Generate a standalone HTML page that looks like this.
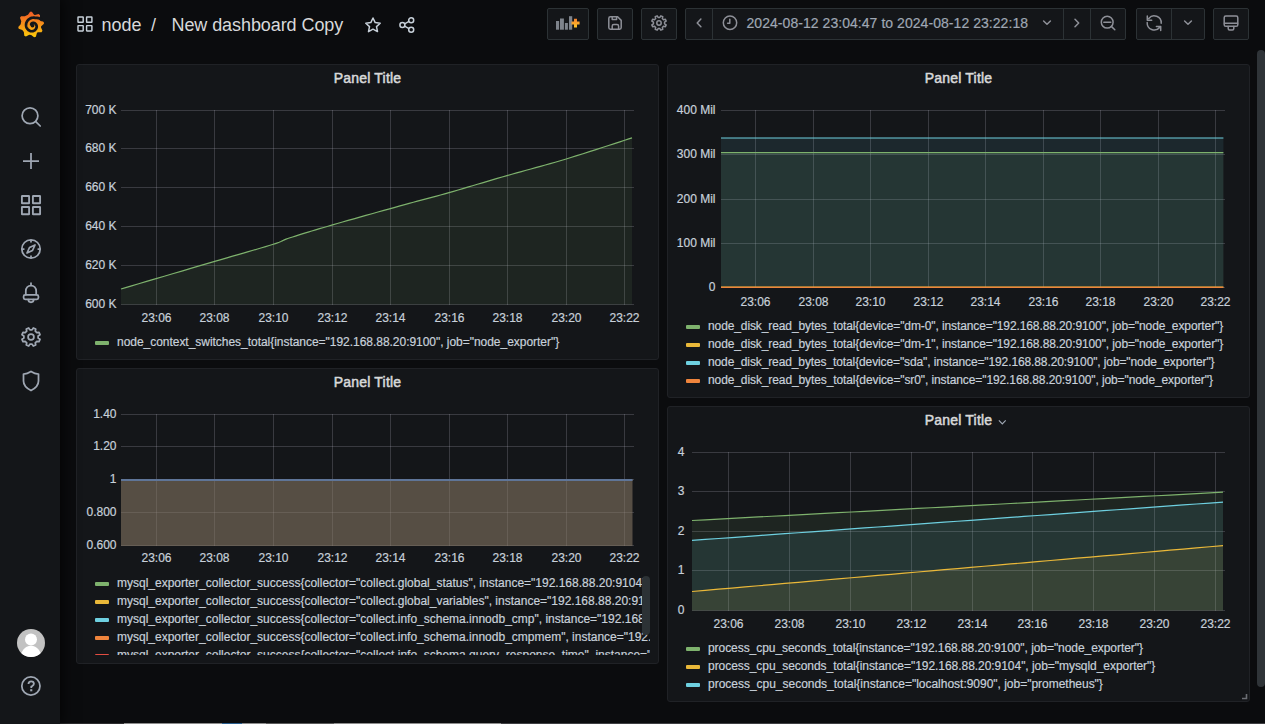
<!DOCTYPE html>
<html><head><meta charset="utf-8"><title>Grafana</title>
<style>
*{margin:0;padding:0;box-sizing:border-box}
html,body{width:1265px;height:724px;overflow:hidden}
body{background:#0b0c0e;font-family:"Liberation Sans", sans-serif;color:#c7d0d9;position:relative}
.a{position:absolute}
.side{left:0;top:0;width:60px;height:724px;background:#141619;box-shadow:0 0 14px 2px rgba(0,0,0,0.75);z-index:2}
.panel{position:absolute;background:#141619;border:1px solid #202226;border-radius:3px}
.pt{position:absolute;left:0;right:0;text-align:center;font-size:14px;font-weight:normal;color:#d8d9da;-webkit-text-stroke:0.5px #d8d9da;letter-spacing:0.2px}
.ax{font-family:"Liberation Sans", sans-serif;font-size:12px;fill:#c7d0d9;stroke:#c7d0d9;stroke-width:0.2px}
.lg{position:absolute;font-size:12px;color:#c7d0d9;white-space:nowrap;letter-spacing:-0.06px;-webkit-text-stroke:0.2px #c7d0d9}
.sw{position:absolute;width:14px;height:4px;border-radius:1px}
.btn{position:absolute;top:8px;height:32px;background:#141619;border:1px solid #2c3235;border-radius:2px}
.div{position:absolute;top:0;width:1px;height:30px;background:#2c3235}
.nav{font-size:18px;color:#d8d9da;white-space:nowrap}
</style></head><body>

<div class="a side">
<svg class="a" style="left:0;top:0" width="60" height="724" viewBox="0 0 60 724">
<defs><linearGradient id="lg1" x1="0" y1="0" x2="0" y2="1"><stop offset="0" stop-color="#F05A28"/><stop offset="1" stop-color="#FBCA0A"/></linearGradient></defs>
<path fill="url(#lg1)" d="M27.99,14.75 L30.09,11.63 L31.91,11.63 L34.01,14.75 L35.02,15.12 L38.64,14.08 L40.03,15.25 L39.64,18.99 L40.33,20.25 L43.72,21.90 L43.97,23.69 L41.17,26.21 L40.95,27.27 L42.48,30.70 L41.52,32.24 L37.76,32.37 L36.91,33.04 L35.87,36.65 L34.14,37.21 L31.18,34.90 L29.21,34.74 L25.92,36.57 L24.30,35.74 L23.85,32.01 L22.27,30.06 L18.71,28.83 L18.24,27.08 L20.71,24.24 L21.26,21.25 L19.98,17.71 L21.04,16.24 L24.80,16.37 Z"/>
<path fill="none" stroke="#141619" stroke-width="2.7" stroke-linecap="round" d="M41.55,19.90 L40.49,19.13 L39.38,18.53 L38.24,18.10 L37.11,17.84 L36.00,17.73 L34.94,17.78 L34.10,17.68 L33.27,17.66 L32.46,17.73 L31.68,17.89 L30.93,18.12 L30.23,18.43 L29.58,18.81 L28.91,19.26 L28.30,19.78 L27.77,20.35 L27.32,20.97 L26.96,21.63 L26.60,22.30 L26.33,23.01 L26.15,23.74 L26.06,24.47 L26.05,25.21 L26.13,25.94 L26.25,26.58 L26.44,27.21 L26.69,27.81 L27.01,28.38 L27.38,28.91 L27.81,29.39 L28.30,29.86 L28.84,30.27 L29.43,30.62 L30.05,30.90 L30.70,31.11 L31.36,31.24 L32.10,31.22 L32.81,31.11 L33.50,30.91 L34.14,30.64 L34.74,30.29 L35.20,29.89 L35.60,29.46 L35.95,28.99 L36.23,28.50 L36.45,27.99 L36.61,27.47 L36.71,26.94 L36.69,26.36 L36.60,25.81 L36.45,25.30 L36.24,24.83 L35.98,24.40 L35.68,24.03 L35.40,23.72 L35.09,23.46 L34.76,23.24 L34.43,23.07 L34.09,22.95 L33.74,22.88 L33.41,22.84 L33.09,22.86 L32.79,22.88 L32.50,22.94 L32.24,23.03 L31.99,23.15 L31.78,23.29 L31.59,23.45 L31.44,23.63 L31.31,23.82 L31.22,24.01 L31.16,24.21 L31.13,24.40"/>
<circle cx="32.5" cy="25.6" r="1.9" fill="#141619"/>
<g fill="none" stroke="#9fa7b3" stroke-width="1.75" stroke-linecap="round" stroke-linejoin="round">
<circle cx="30" cy="115.8" r="7.9"/><path d="M35.8,121.6 L40.2,126"/>
<path d="M23,161 H39 M31,153 V169" stroke-linecap="butt"/>
<g stroke-width="1.85" stroke-linejoin="miter"><rect x="21.9" y="196" width="7.2" height="7.2" rx="0.3"/><rect x="32.9" y="196" width="7.2" height="7.2" rx="0.3"/><rect x="21.9" y="207" width="7.2" height="7.2" rx="0.3"/><rect x="32.9" y="207" width="7.2" height="7.2" rx="0.3"/></g>
<circle cx="31" cy="249" r="9.2"/><path d="M35,245 L32.5,250.5 L27,253 L29.5,247.5 Z"/><path d="M31,240.5 V241.8 M31,256.2 V257.5 M22.5,249 H23.8 M38.2,249 H39.5"/>
<path d="M31,283.2 V285.4 M25.8,294.6 V291.2 C25.8,288 28,285.6 31,285.6 C34,285.6 36.2,288 36.2,291.2 V294.6"/>
<rect x="23.6" y="294.8" width="14.8" height="4.6" rx="1.6"/>
<path d="M28.3,299.6 A2.7,2.7 0 0 0 33.7,299.6"/>
<path d="M38.12,338.07 L40.01,339.31 L39.00,341.73 L36.79,341.28 L35.28,342.79 L35.73,345.00 L33.31,346.01 L32.07,344.12 L29.93,344.12 L28.69,346.01 L26.27,345.00 L26.72,342.79 L25.21,341.28 L23.00,341.73 L21.99,339.31 L23.88,338.07 L23.88,335.93 L21.99,334.69 L23.00,332.27 L25.21,332.72 L26.72,331.21 L26.27,329.00 L28.69,327.99 L29.93,329.88 L32.07,329.88 L33.31,327.99 L35.73,329.00 L35.28,331.21 L36.79,332.72 L39.00,332.27 L40.01,334.69 L38.12,335.93 Z"/>
<circle cx="31" cy="337" r="2.9"/>
<path d="M31,371.5 C28,373.5 25.5,374 23.5,374 V381 C23.5,385.5 27,388.5 31,390.5 C35,388.5 38.5,385.5 38.5,381 V374 C36.5,374 34,373.5 31,371.5 Z"/>
<circle cx="30.9" cy="686" r="9.1"/>
</g>
<path d="M28.5,684.1 C28.5,682.4 29.7,681.3 31.2,681.3 C32.8,681.3 33.9,682.4 33.9,683.8 C33.9,685.4 32.3,685.9 31.3,686.6 V688" fill="none" stroke="#9fa7b3" stroke-width="1.8" stroke-linejoin="round"/>
<rect x="30.2" y="689.2" width="2.1" height="2.1" fill="#9fa7b3"/>
<defs><clipPath id="avc"><circle cx="31" cy="643" r="14"/></clipPath></defs>
<circle cx="31" cy="643" r="14" fill="#c2c2c2"/>
<g clip-path="url(#avc)" fill="#ffffff"><circle cx="31" cy="639.6" r="6"/><ellipse cx="31" cy="659.5" rx="11" ry="13.8"/></g>
</svg>
</div>
<svg class="a" style="left:76px;top:16px" width="18" height="17" viewBox="0 0 18 17">
<g fill="none" stroke="#c7d0d9" stroke-width="1.45"><rect x="2" y="1" width="5.2" height="5.2" rx="0.3"/><rect x="10.6" y="1" width="5.3" height="5.2" rx="0.3"/><rect x="2" y="9.6" width="5.2" height="5.3" rx="0.3"/><rect x="10.6" y="9.6" width="5.3" height="5.3" rx="0.3"/></g></svg>
<div class="a nav" style="left:101.5px;top:14.5px">node</div>
<div class="a nav" style="left:151px;top:14.5px">/</div>
<div class="a nav" style="left:171.5px;top:14.5px;letter-spacing:-0.08px">New dashboard Copy</div>
<svg class="a" style="left:363px;top:16px" width="20" height="18" viewBox="0 0 20 18">
<path fill="none" stroke="#c7d0d9" stroke-width="1.5" stroke-linejoin="round" d="M10,2 L12.2,6.6 L17.2,7.2 L13.5,10.6 L14.5,15.6 L10,13.2 L5.5,15.6 L6.5,10.6 L2.8,7.2 L7.8,6.6 Z"/></svg>
<svg class="a" style="left:398px;top:16px" width="18" height="18" viewBox="0 0 18 18">
<g fill="none" stroke="#c7d0d9" stroke-width="1.5"><circle cx="13.2" cy="4.2" r="2.5"/><circle cx="4.4" cy="9" r="2.5"/><circle cx="13.2" cy="13.8" r="2.5"/><path d="M6.6,7.8 L11,5.4 M6.6,10.2 L11,12.6"/></g></svg>

<div class="btn" style="left:547px;width:42px"></div>
<div class="btn" style="left:597px;width:36px"></div>
<div class="btn" style="left:641px;width:36px"></div>
<div class="btn" style="left:685px;width:441px"><div class="div" style="left:26px"></div><div class="div" style="left:377px"></div><div class="div" style="left:404px"></div></div>
<div class="btn" style="left:1136px;width:69px"><div class="div" style="left:34px"></div></div>
<div class="btn" style="left:1213px;width:36px"></div>
<div class="a" style="left:746.5px;top:14.5px;font-size:14px;color:#9fa7b3;white-space:nowrap;letter-spacing:0.05px;-webkit-text-stroke:0.2px #9fa7b3">2024-08-12 23:04:47 to 2024-08-12 23:22:18</div>
<svg class="a" style="left:0;top:0" width="1265" height="48" viewBox="0 0 1265 48">
<defs><linearGradient id="lg2" x1="0" y1="0" x2="0" y2="1"><stop offset="0" stop-color="#F5822F"/><stop offset="1" stop-color="#FFC629"/></linearGradient></defs>
<g fill="#7e838b">
<rect x="556" y="21" width="3.1" height="8.7"/><rect x="560" y="18.5" width="3.9" height="11.2"/><rect x="564.9" y="23" width="3" height="6.7"/><rect x="569" y="16.2" width="3.2" height="13.5"/>
</g>
<path d="M575.5,18.8 V27.4 M571.5,23.1 H579.6" stroke="url(#lg2)" stroke-width="3"/>
<g fill="none" stroke="#8e9098" stroke-width="1.5" stroke-linejoin="round" stroke-linecap="round">
<path d="M610.4,16.8 H617.6 L621.2,20.4 V27.6 C621.2,28.5 620.5,29.2 619.6,29.2 H610.4 C609.5,29.2 608.8,28.5 608.8,27.6 V18.4 C608.8,17.5 609.5,16.8 610.4,16.8 Z"/>
<path d="M612.2,17.2 V19.4 H616.6 V17.2 M612.2,29 V26.2 C612.2,25.2 612.9,24.6 613.8,24.6 H617 C617.9,24.6 618.6,25.2 618.6,26.2 V29"/>
<path d="M664.54,23.83 L666.17,24.84 L665.37,26.77 L663.50,26.33 L662.33,27.50 L662.77,29.37 L660.84,30.17 L659.83,28.54 L658.17,28.54 L657.16,30.17 L655.23,29.37 L655.67,27.50 L654.50,26.33 L652.63,26.77 L651.83,24.84 L653.46,23.83 L653.46,22.17 L651.83,21.16 L652.63,19.23 L654.50,19.67 L655.67,18.50 L655.23,16.63 L657.16,15.83 L658.17,17.46 L659.83,17.46 L660.84,15.83 L662.77,16.63 L662.33,18.50 L663.50,19.67 L665.37,19.23 L666.17,21.16 L664.54,22.17 Z"/>
<circle cx="659" cy="23" r="2.2"/>
<path d="M700.9,19.1 L697.2,22.9 L700.9,26.7"/>
<circle cx="730" cy="22.8" r="6.7"/><path d="M729.8,19.3 V23.3 H727.6"/>
<path d="M1043.6,21 L1047,24.3 L1050.4,21"/>
<path d="M1075,19.2 L1078.7,23 L1075,26.8"/>
<circle cx="1107.2" cy="22.2" r="5.9"/><path d="M1103.8,22.3 H1110.8 M1111.6,26.6 L1114.8,29.8"/>
<path d="M1148.8,18.4 A7,7 0 0 1 1161.2,23.2 M1147.3,15.9 V20.3 H1151.7"/>
<path d="M1147.2,22.6 A7,7 0 0 0 1159.6,27.4 M1156.4,26.4 H1160.7 V30.4"/>
<path d="M1184.6,21 L1188,24.3 L1191.4,21"/>
<rect x="1224.2" y="16.1" width="13.6" height="10.2" rx="1.6"/><path d="M1224.4,23.2 H1237.6 M1228.2,26.4 V28.4 C1228.2,29.4 1228.8,29.9 1229.6,29.9 H1232.4 C1233.2,29.9 1233.8,29.4 1233.8,28.4 V26.4"/>
</g>
</svg>
<div class="panel" style="left:76px;top:64px;width:583px;height:296px"></div>
<div class="panel" style="left:667px;top:64px;width:583px;height:334px"></div>
<div class="panel" style="left:76px;top:368px;width:583px;height:296px"></div>
<div class="panel" style="left:667px;top:406px;width:583px;height:296px"></div>
<div class="pt a" style="left:76px;width:583px;top:70px">Panel Title</div>
<div class="pt a" style="left:667px;width:583px;top:70px">Panel Title</div>
<div class="pt a" style="left:76px;width:583px;top:374px">Panel Title</div>
<div class="pt a" style="left:667px;width:583px;top:412px">Panel Title</div>
<svg class="a" style="left:996px;top:416px" width="12" height="12" viewBox="0 0 12 12"><path d="M2.9,4.4 L6.3,7.8 L9.7,4.4" fill="none" stroke="#9fa7b3" stroke-width="1.2"/></svg>
<svg class="a" style="left:1240px;top:692px" width="9" height="9" viewBox="0 0 9 9"><path d="M2,6.5 H6.5 V2" fill="none" stroke="#6b6e74" stroke-width="1.6"/></svg>
<svg class="a" style="left:0;top:0" width="1265" height="724" viewBox="0 0 1265 724">
<rect x="121" y="110" width="513" height="1" fill="rgba(204,204,220,0.2)"/>
<rect x="121" y="148" width="513" height="1" fill="rgba(204,204,220,0.2)"/>
<rect x="121" y="187" width="513" height="1" fill="rgba(204,204,220,0.2)"/>
<rect x="121" y="226" width="513" height="1" fill="rgba(204,204,220,0.2)"/>
<rect x="121" y="265" width="513" height="1" fill="rgba(204,204,220,0.2)"/>
<rect x="121" y="304" width="513" height="1" fill="rgba(204,204,220,0.2)"/>
<rect x="156" y="110" width="1" height="195" fill="rgba(204,204,220,0.2)"/>
<rect x="214" y="110" width="1" height="195" fill="rgba(204,204,220,0.2)"/>
<rect x="273" y="110" width="1" height="195" fill="rgba(204,204,220,0.2)"/>
<rect x="332" y="110" width="1" height="195" fill="rgba(204,204,220,0.2)"/>
<rect x="390" y="110" width="1" height="195" fill="rgba(204,204,220,0.2)"/>
<rect x="449" y="110" width="1" height="195" fill="rgba(204,204,220,0.2)"/>
<rect x="507" y="110" width="1" height="195" fill="rgba(204,204,220,0.2)"/>
<rect x="566" y="110" width="1" height="195" fill="rgba(204,204,220,0.2)"/>
<rect x="624" y="110" width="1" height="195" fill="rgba(204,204,220,0.2)"/>
<path d="M121,304.5 L121,289 L125.64,287.63 L131.61,285.87 L138.68,283.79 L146.62,281.45 L155.22,278.91 L164.24,276.26 L173.46,273.54 L182.66,270.83 L191.6,268.19 L200.08,265.7 L207.85,263.41 L214.7,261.4 L220.9,259.58 L226.88,257.85 L232.62,256.18 L238.12,254.6 L243.37,253.08 L248.36,251.64 L253.09,250.28 L257.55,248.98 L261.72,247.76 L265.61,246.6 L269.21,245.52 L272.5,244.5 L275.29,243.6 L277.46,242.86 L279.12,242.25 L280.39,241.74 L281.38,241.3 L282.21,240.9 L282.98,240.51 L283.81,240.11 L284.81,239.67 L286.1,239.16 L287.79,238.54 L290,237.8 L292.59,236.96 L295.35,236.08 L298.28,235.15 L301.39,234.19 L304.67,233.17 L308.12,232.12 L311.75,231.02 L315.56,229.88 L319.53,228.7 L323.68,227.47 L328,226.21 L332.5,224.9 L337.31,223.51 L342.52,222.02 L348.05,220.45 L353.83,218.81 L359.79,217.13 L365.84,215.43 L371.92,213.72 L377.94,212.04 L383.84,210.39 L389.53,208.81 L394.94,207.3 L400,205.9 L404.7,204.6 L409.13,203.4 L413.34,202.26 L417.37,201.18 L421.27,200.14 L425.09,199.12 L428.88,198.12 L432.69,197.1 L436.55,196.05 L440.53,194.96 L444.66,193.82 L449,192.6 L453.52,191.31 L458.14,189.97 L462.86,188.6 L467.65,187.19 L472.51,185.75 L477.41,184.29 L482.35,182.83 L487.3,181.36 L492.26,179.89 L497.21,178.44 L502.12,177.01 L507,175.6 L511.83,174.23 L516.62,172.89 L521.38,171.57 L526.13,170.27 L530.89,168.97 L535.66,167.67 L540.47,166.35 L545.31,165.01 L550.21,163.63 L555.19,162.21 L560.24,160.74 L565.4,159.2 L570.87,157.53 L576.8,155.69 L583.03,153.72 L589.46,151.67 L595.94,149.59 L602.35,147.52 L608.56,145.51 L614.43,143.6 L619.84,141.84 L624.66,140.27 L628.76,138.94 L632,137.9 L632,304.5 Z" fill="#7EB26D" fill-opacity="0.1"/>
<path d="M121,289 L125.64,287.63 L131.61,285.87 L138.68,283.79 L146.62,281.45 L155.22,278.91 L164.24,276.26 L173.46,273.54 L182.66,270.83 L191.6,268.19 L200.08,265.7 L207.85,263.41 L214.7,261.4 L220.9,259.58 L226.88,257.85 L232.62,256.18 L238.12,254.6 L243.37,253.08 L248.36,251.64 L253.09,250.28 L257.55,248.98 L261.72,247.76 L265.61,246.6 L269.21,245.52 L272.5,244.5 L275.29,243.6 L277.46,242.86 L279.12,242.25 L280.39,241.74 L281.38,241.3 L282.21,240.9 L282.98,240.51 L283.81,240.11 L284.81,239.67 L286.1,239.16 L287.79,238.54 L290,237.8 L292.59,236.96 L295.35,236.08 L298.28,235.15 L301.39,234.19 L304.67,233.17 L308.12,232.12 L311.75,231.02 L315.56,229.88 L319.53,228.7 L323.68,227.47 L328,226.21 L332.5,224.9 L337.31,223.51 L342.52,222.02 L348.05,220.45 L353.83,218.81 L359.79,217.13 L365.84,215.43 L371.92,213.72 L377.94,212.04 L383.84,210.39 L389.53,208.81 L394.94,207.3 L400,205.9 L404.7,204.6 L409.13,203.4 L413.34,202.26 L417.37,201.18 L421.27,200.14 L425.09,199.12 L428.88,198.12 L432.69,197.1 L436.55,196.05 L440.53,194.96 L444.66,193.82 L449,192.6 L453.52,191.31 L458.14,189.97 L462.86,188.6 L467.65,187.19 L472.51,185.75 L477.41,184.29 L482.35,182.83 L487.3,181.36 L492.26,179.89 L497.21,178.44 L502.12,177.01 L507,175.6 L511.83,174.23 L516.62,172.89 L521.38,171.57 L526.13,170.27 L530.89,168.97 L535.66,167.67 L540.47,166.35 L545.31,165.01 L550.21,163.63 L555.19,162.21 L560.24,160.74 L565.4,159.2 L570.87,157.53 L576.8,155.69 L583.03,153.72 L589.46,151.67 L595.94,149.59 L602.35,147.52 L608.56,145.51 L614.43,143.6 L619.84,141.84 L624.66,140.27 L628.76,138.94 L632,137.9" fill="none" stroke="#7EB26D" stroke-width="1.2" stroke-linejoin="round"/>
<text x="116.5" y="113.9" text-anchor="end" class="ax">700 K</text>
<text x="116.5" y="151.9" text-anchor="end" class="ax">680 K</text>
<text x="116.5" y="190.9" text-anchor="end" class="ax">660 K</text>
<text x="116.5" y="229.9" text-anchor="end" class="ax">640 K</text>
<text x="116.5" y="268.9" text-anchor="end" class="ax">620 K</text>
<text x="116.5" y="307.9" text-anchor="end" class="ax">600 K</text>
<text x="156.5" y="322" text-anchor="middle" class="ax">23:06</text>
<text x="214.5" y="322" text-anchor="middle" class="ax">23:08</text>
<text x="273.5" y="322" text-anchor="middle" class="ax">23:10</text>
<text x="332.5" y="322" text-anchor="middle" class="ax">23:12</text>
<text x="390.5" y="322" text-anchor="middle" class="ax">23:14</text>
<text x="449.5" y="322" text-anchor="middle" class="ax">23:16</text>
<text x="507.5" y="322" text-anchor="middle" class="ax">23:18</text>
<text x="566.5" y="322" text-anchor="middle" class="ax">23:20</text>
<text x="624.5" y="322" text-anchor="middle" class="ax">23:22</text>
<rect x="721" y="110" width="504" height="1" fill="rgba(204,204,220,0.2)"/>
<rect x="721" y="154" width="504" height="1" fill="rgba(204,204,220,0.2)"/>
<rect x="721" y="199" width="504" height="1" fill="rgba(204,204,220,0.2)"/>
<rect x="721" y="243" width="504" height="1" fill="rgba(204,204,220,0.2)"/>
<rect x="721" y="287" width="504" height="1" fill="rgba(204,204,220,0.2)"/>
<rect x="755" y="110" width="1" height="178" fill="rgba(204,204,220,0.2)"/>
<rect x="813" y="110" width="1" height="178" fill="rgba(204,204,220,0.2)"/>
<rect x="870" y="110" width="1" height="178" fill="rgba(204,204,220,0.2)"/>
<rect x="928" y="110" width="1" height="178" fill="rgba(204,204,220,0.2)"/>
<rect x="985" y="110" width="1" height="178" fill="rgba(204,204,220,0.2)"/>
<rect x="1043" y="110" width="1" height="178" fill="rgba(204,204,220,0.2)"/>
<rect x="1100" y="110" width="1" height="178" fill="rgba(204,204,220,0.2)"/>
<rect x="1158" y="110" width="1" height="178" fill="rgba(204,204,220,0.2)"/>
<rect x="1215" y="110" width="1" height="178" fill="rgba(204,204,220,0.2)"/>
<path d="M721,287.4 L721,152.6 L1223.4,152.6 L1223.4,287.4 Z" fill="#7EB26D" fill-opacity="0.1"/>
<path d="M721,287.4 L721,287.2 L1223.4,287.2 L1223.4,287.4 Z" fill="#EAB839" fill-opacity="0.1"/>
<path d="M721,287.4 L721,138 L1223.4,138 L1223.4,287.4 Z" fill="#6ED0E0" fill-opacity="0.1"/>
<path d="M721,287.4 L721,287.4 L1223.4,287.4 L1223.4,287.4 Z" fill="#EF843C" fill-opacity="0.1"/>
<path d="M721,152.6 L1223.4,152.6" fill="none" stroke="#7EB26D" stroke-width="1.2" stroke-linejoin="round"/>
<path d="M721,287.2 L1223.4,287.2" fill="none" stroke="#EAB839" stroke-width="1.2" stroke-linejoin="round"/>
<path d="M721,138 L1223.4,138" fill="none" stroke="#6ED0E0" stroke-width="1.2" stroke-linejoin="round"/>
<path d="M721,287.4 L1223.4,287.4" fill="none" stroke="#EF843C" stroke-width="1.2" stroke-linejoin="round"/>
<text x="715.5" y="113.9" text-anchor="end" class="ax">400 Mil</text>
<text x="715.5" y="157.9" text-anchor="end" class="ax">300 Mil</text>
<text x="715.5" y="202.9" text-anchor="end" class="ax">200 Mil</text>
<text x="715.5" y="246.9" text-anchor="end" class="ax">100 Mil</text>
<text x="715.5" y="290.9" text-anchor="end" class="ax">0</text>
<text x="755.5" y="306" text-anchor="middle" class="ax">23:06</text>
<text x="813.5" y="306" text-anchor="middle" class="ax">23:08</text>
<text x="870.5" y="306" text-anchor="middle" class="ax">23:10</text>
<text x="928.5" y="306" text-anchor="middle" class="ax">23:12</text>
<text x="985.5" y="306" text-anchor="middle" class="ax">23:14</text>
<text x="1043.5" y="306" text-anchor="middle" class="ax">23:16</text>
<text x="1100.5" y="306" text-anchor="middle" class="ax">23:18</text>
<text x="1158.5" y="306" text-anchor="middle" class="ax">23:20</text>
<text x="1215.5" y="306" text-anchor="middle" class="ax">23:22</text>
<rect x="121" y="414" width="513" height="1" fill="rgba(204,204,220,0.2)"/>
<rect x="121" y="446" width="513" height="1" fill="rgba(204,204,220,0.2)"/>
<rect x="121" y="479" width="513" height="1" fill="rgba(204,204,220,0.2)"/>
<rect x="121" y="512" width="513" height="1" fill="rgba(204,204,220,0.2)"/>
<rect x="121" y="545" width="513" height="1" fill="rgba(204,204,220,0.2)"/>
<rect x="156" y="414" width="1" height="132" fill="rgba(204,204,220,0.2)"/>
<rect x="214" y="414" width="1" height="132" fill="rgba(204,204,220,0.2)"/>
<rect x="273" y="414" width="1" height="132" fill="rgba(204,204,220,0.2)"/>
<rect x="332" y="414" width="1" height="132" fill="rgba(204,204,220,0.2)"/>
<rect x="390" y="414" width="1" height="132" fill="rgba(204,204,220,0.2)"/>
<rect x="449" y="414" width="1" height="132" fill="rgba(204,204,220,0.2)"/>
<rect x="507" y="414" width="1" height="132" fill="rgba(204,204,220,0.2)"/>
<rect x="566" y="414" width="1" height="132" fill="rgba(204,204,220,0.2)"/>
<rect x="624" y="414" width="1" height="132" fill="rgba(204,204,220,0.2)"/>
<path d="M121,546 L121,480 L632.5,480 L632.5,546 Z" fill="#8a7a66" fill-opacity="0.57"/>
<path d="M121,480 L632.5,480" fill="none" stroke="#8a7a66" stroke-width="1.2" stroke-linejoin="round"/>
<text x="116.5" y="417.9" text-anchor="end" class="ax">1.40</text>
<text x="116.5" y="449.9" text-anchor="end" class="ax">1.20</text>
<text x="116.5" y="482.9" text-anchor="end" class="ax">1</text>
<text x="116.5" y="515.9" text-anchor="end" class="ax">0.800</text>
<text x="116.5" y="548.9" text-anchor="end" class="ax">0.600</text>
<text x="156.5" y="562" text-anchor="middle" class="ax">23:06</text>
<text x="214.5" y="562" text-anchor="middle" class="ax">23:08</text>
<text x="273.5" y="562" text-anchor="middle" class="ax">23:10</text>
<text x="332.5" y="562" text-anchor="middle" class="ax">23:12</text>
<text x="390.5" y="562" text-anchor="middle" class="ax">23:14</text>
<text x="449.5" y="562" text-anchor="middle" class="ax">23:16</text>
<text x="507.5" y="562" text-anchor="middle" class="ax">23:18</text>
<text x="566.5" y="562" text-anchor="middle" class="ax">23:20</text>
<text x="624.5" y="562" text-anchor="middle" class="ax">23:22</text>
<rect x="121" y="479" width="511.5" height="2" fill="#5f7598"/>
<rect x="692" y="452" width="533" height="1" fill="rgba(204,204,220,0.2)"/>
<rect x="692" y="491" width="533" height="1" fill="rgba(204,204,220,0.2)"/>
<rect x="692" y="531" width="533" height="1" fill="rgba(204,204,220,0.2)"/>
<rect x="692" y="570" width="533" height="1" fill="rgba(204,204,220,0.2)"/>
<rect x="692" y="610" width="533" height="1" fill="rgba(204,204,220,0.2)"/>
<rect x="728" y="452" width="1" height="159" fill="rgba(204,204,220,0.2)"/>
<rect x="789" y="452" width="1" height="159" fill="rgba(204,204,220,0.2)"/>
<rect x="850" y="452" width="1" height="159" fill="rgba(204,204,220,0.2)"/>
<rect x="911" y="452" width="1" height="159" fill="rgba(204,204,220,0.2)"/>
<rect x="972" y="452" width="1" height="159" fill="rgba(204,204,220,0.2)"/>
<rect x="1032" y="452" width="1" height="159" fill="rgba(204,204,220,0.2)"/>
<rect x="1093" y="452" width="1" height="159" fill="rgba(204,204,220,0.2)"/>
<rect x="1154" y="452" width="1" height="159" fill="rgba(204,204,220,0.2)"/>
<rect x="1215" y="452" width="1" height="159" fill="rgba(204,204,220,0.2)"/>
<path d="M692,610.5 L692,520.5 L705.27,519.79 L718.55,519.09 L731.83,518.38 L745.1,517.67 L758.38,516.96 L771.65,516.25 L784.92,515.55 L798.2,514.84 L811.48,514.13 L824.75,513.42 L838.02,512.72 L851.3,512.01 L864.58,511.3 L877.85,510.59 L891.12,509.89 L904.4,509.18 L917.67,508.47 L930.95,507.76 L944.23,507.06 L957.5,506.35 L970.78,505.64 L984.05,504.94 L997.33,504.23 L1010.6,503.52 L1023.88,502.81 L1037.15,502.11 L1050.42,501.4 L1063.7,500.69 L1076.97,499.98 L1090.25,499.27 L1103.53,498.57 L1116.8,497.86 L1130.08,497.15 L1143.35,496.44 L1156.62,495.74 L1169.9,495.03 L1183.17,494.32 L1196.45,493.62 L1209.72,492.91 L1223,492.2 L1223,610.5 Z" fill="#7EB26D" fill-opacity="0.1"/>
<path d="M692,610.5 L692,591.5 L705.27,590.35 L718.55,589.21 L731.83,588.06 L745.1,586.91 L758.38,585.76 L771.65,584.62 L784.92,583.47 L798.2,582.32 L811.48,581.17 L824.75,580.02 L838.02,578.88 L851.3,577.73 L864.58,576.58 L877.85,575.44 L891.12,574.29 L904.4,573.14 L917.67,571.99 L930.95,570.85 L944.23,569.7 L957.5,568.55 L970.78,567.4 L984.05,566.25 L997.33,565.11 L1010.6,563.96 L1023.88,562.81 L1037.15,561.66 L1050.42,560.52 L1063.7,559.37 L1076.97,558.22 L1090.25,557.08 L1103.53,555.93 L1116.8,554.78 L1130.08,553.63 L1143.35,552.49 L1156.62,551.34 L1169.9,550.19 L1183.17,549.04 L1196.45,547.89 L1209.72,546.75 L1223,545.6 L1223,610.5 Z" fill="#EAB839" fill-opacity="0.1"/>
<path d="M692,610.5 L692,540.4 L705.27,539.44 L718.55,538.49 L731.83,537.53 L745.1,536.57 L758.38,535.61 L771.65,534.65 L784.92,533.7 L798.2,532.74 L811.48,531.78 L824.75,530.83 L838.02,529.87 L851.3,528.91 L864.58,527.95 L877.85,527 L891.12,526.04 L904.4,525.08 L917.67,524.12 L930.95,523.16 L944.23,522.21 L957.5,521.25 L970.78,520.29 L984.05,519.34 L997.33,518.38 L1010.6,517.42 L1023.88,516.46 L1037.15,515.5 L1050.42,514.55 L1063.7,513.59 L1076.97,512.63 L1090.25,511.68 L1103.53,510.72 L1116.8,509.76 L1130.08,508.8 L1143.35,507.85 L1156.62,506.89 L1169.9,505.93 L1183.17,504.97 L1196.45,504.02 L1209.72,503.06 L1223,502.1 L1223,610.5 Z" fill="#6ED0E0" fill-opacity="0.1"/>
<path d="M692,520.5 L705.27,519.79 L718.55,519.09 L731.83,518.38 L745.1,517.67 L758.38,516.96 L771.65,516.25 L784.92,515.55 L798.2,514.84 L811.48,514.13 L824.75,513.42 L838.02,512.72 L851.3,512.01 L864.58,511.3 L877.85,510.59 L891.12,509.89 L904.4,509.18 L917.67,508.47 L930.95,507.76 L944.23,507.06 L957.5,506.35 L970.78,505.64 L984.05,504.94 L997.33,504.23 L1010.6,503.52 L1023.88,502.81 L1037.15,502.11 L1050.42,501.4 L1063.7,500.69 L1076.97,499.98 L1090.25,499.27 L1103.53,498.57 L1116.8,497.86 L1130.08,497.15 L1143.35,496.44 L1156.62,495.74 L1169.9,495.03 L1183.17,494.32 L1196.45,493.62 L1209.72,492.91 L1223,492.2" fill="none" stroke="#7EB26D" stroke-width="1.2" stroke-linejoin="round"/>
<path d="M692,591.5 L705.27,590.35 L718.55,589.21 L731.83,588.06 L745.1,586.91 L758.38,585.76 L771.65,584.62 L784.92,583.47 L798.2,582.32 L811.48,581.17 L824.75,580.02 L838.02,578.88 L851.3,577.73 L864.58,576.58 L877.85,575.44 L891.12,574.29 L904.4,573.14 L917.67,571.99 L930.95,570.85 L944.23,569.7 L957.5,568.55 L970.78,567.4 L984.05,566.25 L997.33,565.11 L1010.6,563.96 L1023.88,562.81 L1037.15,561.66 L1050.42,560.52 L1063.7,559.37 L1076.97,558.22 L1090.25,557.08 L1103.53,555.93 L1116.8,554.78 L1130.08,553.63 L1143.35,552.49 L1156.62,551.34 L1169.9,550.19 L1183.17,549.04 L1196.45,547.89 L1209.72,546.75 L1223,545.6" fill="none" stroke="#EAB839" stroke-width="1.2" stroke-linejoin="round"/>
<path d="M692,540.4 L705.27,539.44 L718.55,538.49 L731.83,537.53 L745.1,536.57 L758.38,535.61 L771.65,534.65 L784.92,533.7 L798.2,532.74 L811.48,531.78 L824.75,530.83 L838.02,529.87 L851.3,528.91 L864.58,527.95 L877.85,527 L891.12,526.04 L904.4,525.08 L917.67,524.12 L930.95,523.16 L944.23,522.21 L957.5,521.25 L970.78,520.29 L984.05,519.34 L997.33,518.38 L1010.6,517.42 L1023.88,516.46 L1037.15,515.5 L1050.42,514.55 L1063.7,513.59 L1076.97,512.63 L1090.25,511.68 L1103.53,510.72 L1116.8,509.76 L1130.08,508.8 L1143.35,507.85 L1156.62,506.89 L1169.9,505.93 L1183.17,504.97 L1196.45,504.02 L1209.72,503.06 L1223,502.1" fill="none" stroke="#6ED0E0" stroke-width="1.2" stroke-linejoin="round"/>
<text x="684.5" y="455.9" text-anchor="end" class="ax">4</text>
<text x="684.5" y="494.9" text-anchor="end" class="ax">3</text>
<text x="684.5" y="534.9" text-anchor="end" class="ax">2</text>
<text x="684.5" y="573.9" text-anchor="end" class="ax">1</text>
<text x="684.5" y="613.9" text-anchor="end" class="ax">0</text>
<text x="728.5" y="628" text-anchor="middle" class="ax">23:06</text>
<text x="789.5" y="628" text-anchor="middle" class="ax">23:08</text>
<text x="850.5" y="628" text-anchor="middle" class="ax">23:10</text>
<text x="911.5" y="628" text-anchor="middle" class="ax">23:12</text>
<text x="972.5" y="628" text-anchor="middle" class="ax">23:14</text>
<text x="1032.5" y="628" text-anchor="middle" class="ax">23:16</text>
<text x="1093.5" y="628" text-anchor="middle" class="ax">23:18</text>
<text x="1154.5" y="628" text-anchor="middle" class="ax">23:20</text>
<text x="1215.5" y="628" text-anchor="middle" class="ax">23:22</text>
</svg>
<div class="sw" style="left:95px;top:341px;background:#7EB26D"></div>
<div class="lg" style="left:117px;top:334.5px;letter-spacing:-0.033px">node_context_switches_total{instance=&quot;192.168.88.20:9100&quot;, job=&quot;node_exporter&quot;}</div>
<div class="sw" style="left:686px;top:325px;background:#7EB26D"></div>
<div class="lg" style="left:708px;top:318.5px;letter-spacing:-0.106px">node_disk_read_bytes_total{device=&quot;dm-0&quot;, instance=&quot;192.168.88.20:9100&quot;, job=&quot;node_exporter&quot;}</div>
<div class="sw" style="left:686px;top:343px;background:#EAB839"></div>
<div class="lg" style="left:708px;top:336.5px;letter-spacing:-0.106px">node_disk_read_bytes_total{device=&quot;dm-1&quot;, instance=&quot;192.168.88.20:9100&quot;, job=&quot;node_exporter&quot;}</div>
<div class="sw" style="left:686px;top:361px;background:#6ED0E0"></div>
<div class="lg" style="left:708px;top:354.5px;letter-spacing:-0.114px">node_disk_read_bytes_total{device=&quot;sda&quot;, instance=&quot;192.168.88.20:9100&quot;, job=&quot;node_exporter&quot;}</div>
<div class="sw" style="left:686px;top:379px;background:#EF843C"></div>
<div class="lg" style="left:708px;top:372.5px;letter-spacing:-0.103px">node_disk_read_bytes_total{device=&quot;sr0&quot;, instance=&quot;192.168.88.20:9100&quot;, job=&quot;node_exporter&quot;}</div>
<div class="a" style="left:85px;top:575px;width:565px;height:80px;overflow:hidden">
<div class="sw" style="left:10px;top:7px;background:#7EB26D"></div>
<div class="lg" style="left:32px;top:0.5px;letter-spacing:0px">mysql_exporter_collector_success{collector=&quot;collect.global_status&quot;, instance=&quot;192.168.88.20:9104&quot;, job=&quot;mysqld_exporter&quot;}</div>
<div class="sw" style="left:10px;top:25px;background:#EAB839"></div>
<div class="lg" style="left:32px;top:18.5px;letter-spacing:0px">mysql_exporter_collector_success{collector=&quot;collect.global_variables&quot;, instance=&quot;192.168.88.20:9104&quot;, job=&quot;mysqld_exporter&quot;}</div>
<div class="sw" style="left:10px;top:43px;background:#6ED0E0"></div>
<div class="lg" style="left:32px;top:36.5px;letter-spacing:0px">mysql_exporter_collector_success{collector=&quot;collect.info_schema.innodb_cmp&quot;, instance=&quot;192.168.88.20:9104&quot;, job=&quot;mysqld_exporter&quot;}</div>
<div class="sw" style="left:10px;top:61px;background:#EF843C"></div>
<div class="lg" style="left:32px;top:54.5px;letter-spacing:0px">mysql_exporter_collector_success{collector=&quot;collect.info_schema.innodb_cmpmem&quot;, instance=&quot;192.168.88.20:9104&quot;, job=&quot;mysqld_exporter&quot;}</div>
<div class="sw" style="left:10px;top:79px;background:#E24D42"></div>
<div class="lg" style="left:32px;top:72.5px;letter-spacing:0px">mysql_exporter_collector_success{collector=&quot;collect.info_schema.query_response_time&quot;, instance=&quot;192.168.88.20:9104&quot;, job=&quot;mysqld_exporter&quot;}</div>
</div>
<div class="a" style="left:642px;top:576px;width:8px;height:59px;background:#2c3235;border-radius:4px"></div>
<div class="sw" style="left:686px;top:647px;background:#7EB26D"></div>
<div class="lg" style="left:708px;top:640.5px;letter-spacing:-0.058px">process_cpu_seconds_total{instance=&quot;192.168.88.20:9100&quot;, job=&quot;node_exporter&quot;}</div>
<div class="sw" style="left:686px;top:665px;background:#EAB839"></div>
<div class="lg" style="left:708px;top:658.5px;letter-spacing:-0.044px">process_cpu_seconds_total{instance=&quot;192.168.88.20:9104&quot;, job=&quot;mysqld_exporter&quot;}</div>
<div class="sw" style="left:686px;top:683px;background:#6ED0E0"></div>
<div class="lg" style="left:708px;top:676.5px;letter-spacing:-0.016px">process_cpu_seconds_total{instance=&quot;localhost:9090&quot;, job=&quot;prometheus&quot;}</div>
<div class="a" style="left:1257px;top:50px;width:8px;height:637px;background:#2f3438;border-radius:4px"></div>
<div class="a" style="left:0;top:723px;width:1265px;height:1px;background:#3e3f42"></div>
<div class="a" style="left:0;top:723px;width:124px;height:1px;background:#2c2c2e"></div>
<div class="a" style="left:124px;top:723px;width:377px;height:1px;background:#8c8c8c"></div>
<div class="a" style="left:222px;top:723px;width:20px;height:1px;background:#2a5f8f"></div>
<div class="a" style="left:266px;top:723px;width:68px;height:1px;background:#5a5a5a"></div>
</body></html>
